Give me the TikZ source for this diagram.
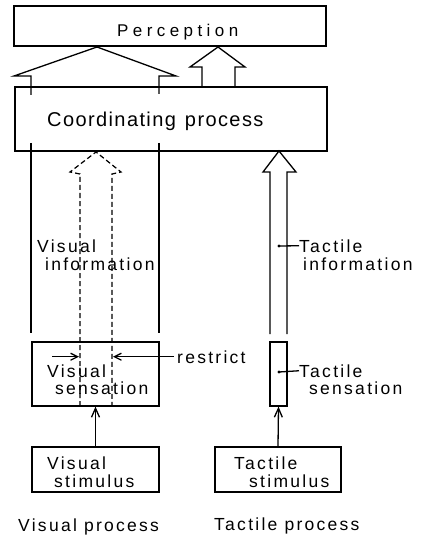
\documentclass[tikz,border=0pt]{standalone}
\usepackage{fontspec}
\setmainfont{Liberation Sans}[LetterSpace=13]
\usetikzlibrary{arrows.meta}
\newcommand\labfont{\fontsize{17.5}{20}\selectfont}
\newcommand\bigfont{\fontsize{20}{24}\selectfont\addfontfeature{LetterSpace=7}}
\newcommand\percfont{\fontsize{17}{20}\selectfont\addfontfeature{LetterSpace=26}}
\begin{document}
\begin{tikzpicture}[x=1pt,y=-1pt,
  lw/.style={line width=1.3pt},
  box/.style={draw,lw,inner sep=0pt},
  lab/.style={font=\labfont,inner sep=0pt,anchor=base west},
  tip/.style={-{Straight Barb[length=7pt,width=7pt]}},
  bigtip/.style={-{Straight Barb[length=9pt,width=8pt]}},
  dsh/.style={line width=1.2pt,dash pattern=on 5pt off 3pt}]
\useasboundingbox (0,0) rectangle (424,537);
% boxes
\node[box,minimum width=312pt,minimum height=40pt] (perc) at (170,26) {};
\node[box,minimum width=312pt,minimum height=64pt] (coord) at (171,119) {};
\node[box,minimum width=127pt,minimum height=64pt] (vsens) at (95.5,374) {};
\node[box,minimum width=127pt,minimum height=45pt] (vstim) at (95.5,469.5) {};
\node[box,minimum width=17pt,minimum height=64pt] (tsens) at (278.5,374) {};
\node[box,minimum width=126pt,minimum height=45pt] (tstim) at (278,469.5) {};
% texts
\node[lab,font=\percfont] (tperc) at (117,36.5) {Perception};
\node[lab,font=\bigfont] (tcoord) at (47,126.5) {Coordinating\hspace{9pt}process};
\node[lab] (vinf1) at (37,252) {Visual};
\node[lab] (vinf2) at (45,270) {information};
\node[lab] (tinf1) at (299,252) {Tactile};
\node[lab] (tinf2) at (303,270) {information};
\node[lab,inner xsep=3pt] (restr) at (174,363) {restrict};
\node[lab] (vsen1) at (47,377) {Visual};
\node[lab] (vsen2) at (55,394) {sensation};
\node[lab] (tsen1) at (299,377) {Tactile};
\node[lab] (tsen2) at (309,394) {sensation};
\node[lab] (vsti1) at (47,469) {Visual};
\node[lab] (vsti2) at (54,487) {stimulus};
\node[lab] (tsti1) at (234,469) {Tactile};
\node[lab] (tsti2) at (249,487) {stimulus};
\node[lab] (vproc) at (18,531) {Visual process};
\node[lab] (tproc) at (214,530) {Tactile process};
% big visual arrow into perception
\draw[lw] (31,95) -- (31,76) -- (14,76) -- (97,47) -- (176,76) -- (159,76) -- (159,94);
% small arrow into perception
\draw[lw] (202,87) -- (202,67) -- (190,67) -- (218,47) -- (245,67) -- (235,67) -- (235,87);
% visual arrow shafts below coordinating box
\draw[lw] (31,143) -- (31,333);
\draw[lw] (159,143) -- (159,333);
% dashed restricted arrow
\draw[dsh] (80,406) -- (80,174) -- (70,172) -- (96,152) -- (121,172) -- (112,174) -- (112,406);
% tactile arrow
\draw[lw] (270,334) -- (270,172) -- (263,172) -- (279,151) -- (296,172) -- (287,172) -- (287,334);
% dots and leaders
\coordinate (tdot1) at (279,246);
\coordinate (tdot2) at (279,372);
\fill (tdot1) circle (1.7pt);
\fill (tdot2) circle (1.7pt);
\draw[lw] (tdot1) -- (tinf1.west);
\draw[lw] (tdot2) -- (tsen1.west);
% restrict arrows
\coordinate (la) at (52,357);
\coordinate (lb) at (79,357);
\coordinate (rb) at (113,357);
\draw[lw,tip] (la |- restr.west) -- (lb |- restr.west);
\draw[lw,tip] (restr.west) -- (rb |- restr.west);
% stimulus to sensation arrows
\draw[lw,bigtip] (vstim.north) -- (vsens.south);
\draw[lw,bigtip] (tstim.north) -- (tsens.south);
\end{tikzpicture}
\end{document}
